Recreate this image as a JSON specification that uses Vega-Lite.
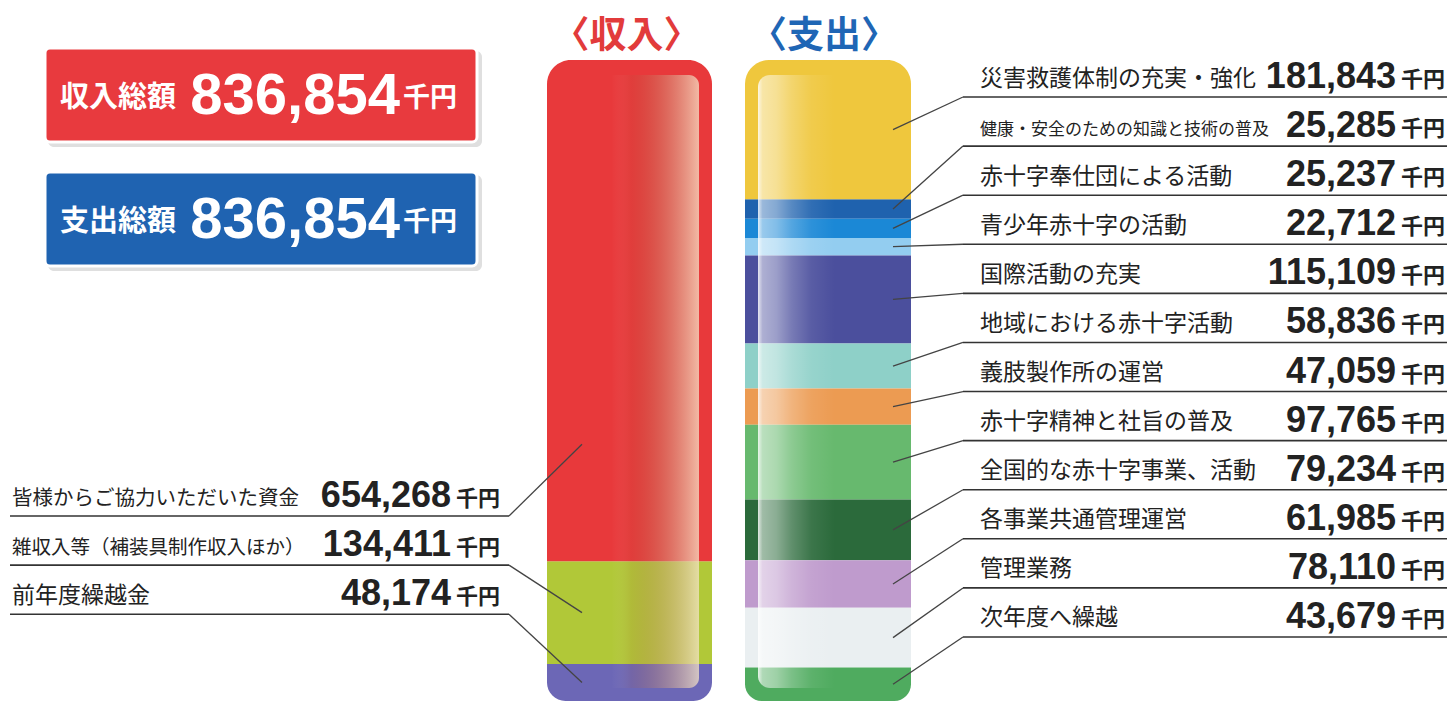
{
  "$schema": "https://vega.github.io/schema/vega-lite/v6.json",
  "width": 1451,
  "height": 704,
  "autosize": {"type": "fit", "contains": "padding"},
  "padding": 0,
  "background": "white",
  "config": {"view": {"stroke": null}},
  "data": {
    "values": [
      {"side": "収入", "item": "皆様からご協力いただいた資金", "amount": 654268},
      {"side": "収入", "item": "雑収入等（補装具制作収入ほか）", "amount": 134411},
      {"side": "収入", "item": "前年度繰越金", "amount": 48174},
      {"side": "支出", "item": "災害救護体制の充実・強化", "amount": 181843},
      {"side": "支出", "item": "健康・安全のための知識と技術の普及", "amount": 25285},
      {"side": "支出", "item": "赤十字奉仕団による活動", "amount": 25237},
      {"side": "支出", "item": "青少年赤十字の活動", "amount": 22712},
      {"side": "支出", "item": "国際活動の充実", "amount": 115109},
      {"side": "支出", "item": "地域における赤十字活動", "amount": 58836},
      {"side": "支出", "item": "義肢製作所の運営", "amount": 47059},
      {"side": "支出", "item": "赤十字精神と社旨の普及", "amount": 97765},
      {"side": "支出", "item": "全国的な赤十字事業、活動", "amount": 79234},
      {"side": "支出", "item": "各事業共通管理運営", "amount": 61985},
      {"side": "支出", "item": "管理業務", "amount": 78110},
      {"side": "支出", "item": "次年度へ繰越", "amount": 43679}
    ]
  },
  "transform": [
    {"window": [{"op": "row_number", "as": "idx"}], "groupby": ["side"]},
    {"joinaggregate": [{"op": "count", "as": "n"}], "groupby": ["side"]},
    {"stack": "amount", "groupby": ["side"], "sort": [{"field": "idx", "order": "ascending"}], "as": ["y0", "y1"]},
    {"calculate": "datum.y1 - min((datum.y1 - datum.y0) / 2, 152700)", "as": "ep"},
    {"calculate": "(datum.side == '収入' ? 595328 : 48305) + 64090 * (datum.idx - 1)", "as": "slot"}
  ],
  "layer": [
    {
      "transform": [{"filter": "datum.side == '収入'"}],
      "layer": [
        {
          "transform": [{"filter": "datum.idx > 1 && datum.idx < datum.n"}],
          "mark": {"type": "rect"},
          "encoding": {
            "x": {"datum": 547, "type": "quantitative", "scale": {"domain": [0, 1451], "nice": false, "zero": false}, "axis": null},
            "x2": {"datum": 712},
            "y": {"field": "y0", "type": "quantitative", "scale": {"domain": [-78333, 840770], "reverse": true, "nice": false, "zero": false}, "axis": null},
            "y2": {"field": "y1"},
            "color": {"field": "item", "type": "nominal", "legend": null, "scale": {"domain": ["皆様からご協力いただいた資金", "雑収入等（補装具制作収入ほか）", "前年度繰越金", "災害救護体制の充実・強化", "健康・安全のための知識と技術の普及", "赤十字奉仕団による活動", "青少年赤十字の活動", "国際活動の充実", "地域における赤十字活動", "義肢製作所の運営", "赤十字精神と社旨の普及", "全国的な赤十字事業、活動", "各事業共通管理運営", "管理業務", "次年度へ繰越"], "range": ["#e8393b", "#b1c838", "#6c67b6", "#efc73d", "#1f62ae", "#1b88d6", "#93cdf0", "#4b4f9d", "#8ed0c8", "#ec9b52", "#67b96e", "#2b6a3b", "#bf9bcd", "#eaeff1", "#4fab5f"]}}
          }
        },
        {
          "transform": [{"filter": "datum.idx == 1"}],
          "mark": {"type": "rect", "cornerRadiusTopLeft": 24, "cornerRadiusTopRight": 24},
          "encoding": {
            "x": {"datum": 547, "type": "quantitative", "scale": {"domain": [0, 1451], "nice": false, "zero": false}, "axis": null},
            "x2": {"datum": 712},
            "y": {"field": "y0", "type": "quantitative", "scale": {"domain": [-78333, 840770], "reverse": true, "nice": false, "zero": false}, "axis": null},
            "y2": {"field": "y1"},
            "color": {"field": "item", "type": "nominal", "legend": null, "scale": {"domain": ["皆様からご協力いただいた資金", "雑収入等（補装具制作収入ほか）", "前年度繰越金", "災害救護体制の充実・強化", "健康・安全のための知識と技術の普及", "赤十字奉仕団による活動", "青少年赤十字の活動", "国際活動の充実", "地域における赤十字活動", "義肢製作所の運営", "赤十字精神と社旨の普及", "全国的な赤十字事業、活動", "各事業共通管理運営", "管理業務", "次年度へ繰越"], "range": ["#e8393b", "#b1c838", "#6c67b6", "#efc73d", "#1f62ae", "#1b88d6", "#93cdf0", "#4b4f9d", "#8ed0c8", "#ec9b52", "#67b96e", "#2b6a3b", "#bf9bcd", "#eaeff1", "#4fab5f"]}}
          }
        },
        {
          "transform": [{"filter": "datum.idx == datum.n"}],
          "mark": {"type": "rect", "cornerRadiusBottomLeft": 24, "cornerRadiusBottomRight": 24},
          "encoding": {
            "x": {"datum": 547, "type": "quantitative", "scale": {"domain": [0, 1451], "nice": false, "zero": false}, "axis": null},
            "x2": {"datum": 712},
            "y": {"field": "y0", "type": "quantitative", "scale": {"domain": [-78333, 840770], "reverse": true, "nice": false, "zero": false}, "axis": null},
            "y2": {"field": "y1"},
            "color": {"field": "item", "type": "nominal", "legend": null, "scale": {"domain": ["皆様からご協力いただいた資金", "雑収入等（補装具制作収入ほか）", "前年度繰越金", "災害救護体制の充実・強化", "健康・安全のための知識と技術の普及", "赤十字奉仕団による活動", "青少年赤十字の活動", "国際活動の充実", "地域における赤十字活動", "義肢製作所の運営", "赤十字精神と社旨の普及", "全国的な赤十字事業、活動", "各事業共通管理運営", "管理業務", "次年度へ繰越"], "range": ["#e8393b", "#b1c838", "#6c67b6", "#efc73d", "#1f62ae", "#1b88d6", "#93cdf0", "#4b4f9d", "#8ed0c8", "#ec9b52", "#67b96e", "#2b6a3b", "#bf9bcd", "#eaeff1", "#4fab5f"]}}
          }
        },
        {
          "transform": [{"aggregate": [{"op": "sum", "field": "amount", "as": "total"}], "groupby": ["side"]}],
          "mark": {"type": "rect", "cornerRadius": 10, "fill": {"gradient": "linear", "x1": 0, "y1": 0, "x2": 1, "y2": 0, "stops": [{"offset": 0, "color": "rgba(255,255,255,0)"}, {"offset": 0.42, "color": "rgba(255,255,255,0)"}, {"offset": 0.55, "color": "rgba(170,90,60,0.12)"}, {"offset": 1, "color": "rgba(245,228,200,0.75)"}]}},
          "encoding": {
            "x": {"datum": 548, "type": "quantitative", "scale": {"domain": [0, 1451], "nice": false, "zero": false}, "axis": null},
            "x2": {"datum": 699},
            "y": {"datum": 19583, "type": "quantitative", "scale": {"domain": [-78333, 840770], "reverse": true, "nice": false, "zero": false}, "axis": null},
            "y2": {"datum": 819882}
          }
        },
        {
          "transform": [{"aggregate": [{"op": "sum", "field": "amount", "as": "total"}], "groupby": ["side"]}, {"calculate": "'〈' + datum.side + '〉'", "as": "head"}],
          "mark": {"type": "text", "font": "Noto Sans CJK JP", "fontWeight": "bold", "fontSize": 37, "align": "center", "baseline": "alphabetic", "color": "#e23b3b"},
          "encoding": {
            "x": {"datum": 626.5, "type": "quantitative", "scale": {"domain": [0, 1451], "nice": false, "zero": false}, "axis": null},
            "y": {"datum": -15667, "type": "quantitative", "scale": {"domain": [-78333, 840770], "reverse": true, "nice": false, "zero": false}, "axis": null},
            "text": {"field": "head"}
          }
        },
        {
          "mark": {"type": "rule", "color": "#333333", "strokeWidth": 1.6},
          "encoding": {
            "x": {"datum": 10, "type": "quantitative", "scale": {"domain": [0, 1451], "nice": false, "zero": false}, "axis": null},
            "x2": {"datum": 509},
            "y": {"field": "slot", "type": "quantitative", "scale": {"domain": [-78333, 840770], "reverse": true, "nice": false, "zero": false}, "axis": null}
          }
        },
        {
          "mark": {"type": "rule", "color": "#444444", "strokeWidth": 1.3},
          "encoding": {
            "x": {"datum": 509, "type": "quantitative", "scale": {"domain": [0, 1451], "nice": false, "zero": false}, "axis": null},
            "x2": {"datum": 582},
            "y": {"field": "slot", "type": "quantitative", "scale": {"domain": [-78333, 840770], "reverse": true, "nice": false, "zero": false}, "axis": null},
            "y2": {"field": "ep"}
          }
        },
        {
          "mark": {"type": "text", "font": "Noto Sans CJK JP", "align": "left", "baseline": "alphabetic", "dy": -11.5, "color": "#222222"},
          "encoding": {
            "x": {"datum": 12, "type": "quantitative", "scale": {"domain": [0, 1451], "nice": false, "zero": false}, "axis": null},
            "y": {"field": "slot", "type": "quantitative", "scale": {"domain": [-78333, 840770], "reverse": true, "nice": false, "zero": false}, "axis": null},
            "text": {"field": "item"},
            "size": {"condition": [{"test": "length(datum.item) >= 16", "value": 17}, {"test": "length(datum.item) == 15", "value": 19.5}, {"test": "length(datum.item) == 14", "value": 20.5}], "value": 23}
          }
        },
        {
          "mark": {"type": "text", "font": "Liberation Sans", "fontWeight": "bold", "fontSize": 36, "align": "right", "baseline": "alphabetic", "dy": -9, "color": "#222222"},
          "encoding": {
            "x": {"datum": 451, "type": "quantitative", "scale": {"domain": [0, 1451], "nice": false, "zero": false}, "axis": null},
            "y": {"field": "slot", "type": "quantitative", "scale": {"domain": [-78333, 840770], "reverse": true, "nice": false, "zero": false}, "axis": null},
            "text": {"field": "amount", "format": ","}
          }
        },
        {
          "mark": {"type": "text", "text": "千円", "font": "Noto Sans CJK JP", "fontWeight": "bold", "fontSize": 22, "align": "left", "baseline": "alphabetic", "dy": -10, "color": "#222222"},
          "encoding": {
            "x": {"datum": 456, "type": "quantitative", "scale": {"domain": [0, 1451], "nice": false, "zero": false}, "axis": null},
            "y": {"field": "slot", "type": "quantitative", "scale": {"domain": [-78333, 840770], "reverse": true, "nice": false, "zero": false}, "axis": null}
          }
        }
      ]
    },
    {
      "transform": [{"filter": "datum.side == '支出'"}],
      "layer": [
        {
          "transform": [{"filter": "datum.idx > 1 && datum.idx < datum.n"}],
          "mark": {"type": "rect"},
          "encoding": {
            "x": {"datum": 745, "type": "quantitative", "scale": {"domain": [0, 1451], "nice": false, "zero": false}, "axis": null},
            "x2": {"datum": 911},
            "y": {"field": "y0", "type": "quantitative", "scale": {"domain": [-78333, 840770], "reverse": true, "nice": false, "zero": false}, "axis": null},
            "y2": {"field": "y1"},
            "color": {"field": "item", "type": "nominal", "legend": null, "scale": {"domain": ["皆様からご協力いただいた資金", "雑収入等（補装具制作収入ほか）", "前年度繰越金", "災害救護体制の充実・強化", "健康・安全のための知識と技術の普及", "赤十字奉仕団による活動", "青少年赤十字の活動", "国際活動の充実", "地域における赤十字活動", "義肢製作所の運営", "赤十字精神と社旨の普及", "全国的な赤十字事業、活動", "各事業共通管理運営", "管理業務", "次年度へ繰越"], "range": ["#e8393b", "#b1c838", "#6c67b6", "#efc73d", "#1f62ae", "#1b88d6", "#93cdf0", "#4b4f9d", "#8ed0c8", "#ec9b52", "#67b96e", "#2b6a3b", "#bf9bcd", "#eaeff1", "#4fab5f"]}}
          }
        },
        {
          "transform": [{"filter": "datum.idx == 1"}],
          "mark": {"type": "rect", "cornerRadiusTopLeft": 24, "cornerRadiusTopRight": 24},
          "encoding": {
            "x": {"datum": 745, "type": "quantitative", "scale": {"domain": [0, 1451], "nice": false, "zero": false}, "axis": null},
            "x2": {"datum": 911},
            "y": {"field": "y0", "type": "quantitative", "scale": {"domain": [-78333, 840770], "reverse": true, "nice": false, "zero": false}, "axis": null},
            "y2": {"field": "y1"},
            "color": {"field": "item", "type": "nominal", "legend": null, "scale": {"domain": ["皆様からご協力いただいた資金", "雑収入等（補装具制作収入ほか）", "前年度繰越金", "災害救護体制の充実・強化", "健康・安全のための知識と技術の普及", "赤十字奉仕団による活動", "青少年赤十字の活動", "国際活動の充実", "地域における赤十字活動", "義肢製作所の運営", "赤十字精神と社旨の普及", "全国的な赤十字事業、活動", "各事業共通管理運営", "管理業務", "次年度へ繰越"], "range": ["#e8393b", "#b1c838", "#6c67b6", "#efc73d", "#1f62ae", "#1b88d6", "#93cdf0", "#4b4f9d", "#8ed0c8", "#ec9b52", "#67b96e", "#2b6a3b", "#bf9bcd", "#eaeff1", "#4fab5f"]}}
          }
        },
        {
          "transform": [{"filter": "datum.idx == datum.n"}],
          "mark": {"type": "rect", "cornerRadiusBottomLeft": 24, "cornerRadiusBottomRight": 24},
          "encoding": {
            "x": {"datum": 745, "type": "quantitative", "scale": {"domain": [0, 1451], "nice": false, "zero": false}, "axis": null},
            "x2": {"datum": 911},
            "y": {"field": "y0", "type": "quantitative", "scale": {"domain": [-78333, 840770], "reverse": true, "nice": false, "zero": false}, "axis": null},
            "y2": {"field": "y1"},
            "color": {"field": "item", "type": "nominal", "legend": null, "scale": {"domain": ["皆様からご協力いただいた資金", "雑収入等（補装具制作収入ほか）", "前年度繰越金", "災害救護体制の充実・強化", "健康・安全のための知識と技術の普及", "赤十字奉仕団による活動", "青少年赤十字の活動", "国際活動の充実", "地域における赤十字活動", "義肢製作所の運営", "赤十字精神と社旨の普及", "全国的な赤十字事業、活動", "各事業共通管理運営", "管理業務", "次年度へ繰越"], "range": ["#e8393b", "#b1c838", "#6c67b6", "#efc73d", "#1f62ae", "#1b88d6", "#93cdf0", "#4b4f9d", "#8ed0c8", "#ec9b52", "#67b96e", "#2b6a3b", "#bf9bcd", "#eaeff1", "#4fab5f"]}}
          }
        },
        {
          "transform": [{"aggregate": [{"op": "sum", "field": "amount", "as": "total"}], "groupby": ["side"]}],
          "mark": {"type": "rect", "cornerRadius": 12, "fill": {"gradient": "linear", "x1": 0, "y1": 0, "x2": 1, "y2": 0, "stops": [{"offset": 0, "color": "rgba(255,255,255,0.85)"}, {"offset": 0.03, "color": "rgba(255,255,255,0.55)"}, {"offset": 0.12, "color": "rgba(255,255,255,0.45)"}, {"offset": 0.22, "color": "rgba(255,255,255,0.25)"}, {"offset": 0.35, "color": "rgba(255,255,255,0.08)"}, {"offset": 0.5, "color": "rgba(255,255,255,0)"}, {"offset": 1, "color": "rgba(255,255,255,0)"}]}},
          "encoding": {
            "x": {"datum": 758, "type": "quantitative", "scale": {"domain": [0, 1451], "nice": false, "zero": false}, "axis": null},
            "x2": {"datum": 911},
            "y": {"datum": 19583, "type": "quantitative", "scale": {"domain": [-78333, 840770], "reverse": true, "nice": false, "zero": false}, "axis": null},
            "y2": {"datum": 819882}
          }
        },
        {
          "transform": [{"aggregate": [{"op": "sum", "field": "amount", "as": "total"}], "groupby": ["side"]}, {"calculate": "'〈' + datum.side + '〉'", "as": "head"}],
          "mark": {"type": "text", "font": "Noto Sans CJK JP", "fontWeight": "bold", "fontSize": 37, "align": "center", "baseline": "alphabetic", "color": "#1f66b5"},
          "encoding": {
            "x": {"datum": 824, "type": "quantitative", "scale": {"domain": [0, 1451], "nice": false, "zero": false}, "axis": null},
            "y": {"datum": -15667, "type": "quantitative", "scale": {"domain": [-78333, 840770], "reverse": true, "nice": false, "zero": false}, "axis": null},
            "text": {"field": "head"}
          }
        },
        {
          "mark": {"type": "rule", "color": "#333333", "strokeWidth": 1.6},
          "encoding": {
            "x": {"datum": 963, "type": "quantitative", "scale": {"domain": [0, 1451], "nice": false, "zero": false}, "axis": null},
            "x2": {"datum": 1447},
            "y": {"field": "slot", "type": "quantitative", "scale": {"domain": [-78333, 840770], "reverse": true, "nice": false, "zero": false}, "axis": null}
          }
        },
        {
          "mark": {"type": "rule", "color": "#444444", "strokeWidth": 1.3},
          "encoding": {
            "x": {"datum": 963, "type": "quantitative", "scale": {"domain": [0, 1451], "nice": false, "zero": false}, "axis": null},
            "x2": {"datum": 893},
            "y": {"field": "slot", "type": "quantitative", "scale": {"domain": [-78333, 840770], "reverse": true, "nice": false, "zero": false}, "axis": null},
            "y2": {"field": "ep"}
          }
        },
        {
          "mark": {"type": "text", "font": "Noto Sans CJK JP", "align": "left", "baseline": "alphabetic", "dy": -11.5, "color": "#222222"},
          "encoding": {
            "x": {"datum": 980, "type": "quantitative", "scale": {"domain": [0, 1451], "nice": false, "zero": false}, "axis": null},
            "y": {"field": "slot", "type": "quantitative", "scale": {"domain": [-78333, 840770], "reverse": true, "nice": false, "zero": false}, "axis": null},
            "text": {"field": "item"},
            "size": {"condition": [{"test": "length(datum.item) >= 16", "value": 17}, {"test": "length(datum.item) == 15", "value": 19.5}, {"test": "length(datum.item) == 14", "value": 20.5}], "value": 23}
          }
        },
        {
          "mark": {"type": "text", "font": "Liberation Sans", "fontWeight": "bold", "fontSize": 36, "align": "right", "baseline": "alphabetic", "dy": -9, "color": "#222222"},
          "encoding": {
            "x": {"datum": 1396, "type": "quantitative", "scale": {"domain": [0, 1451], "nice": false, "zero": false}, "axis": null},
            "y": {"field": "slot", "type": "quantitative", "scale": {"domain": [-78333, 840770], "reverse": true, "nice": false, "zero": false}, "axis": null},
            "text": {"field": "amount", "format": ","}
          }
        },
        {
          "mark": {"type": "text", "text": "千円", "font": "Noto Sans CJK JP", "fontWeight": "bold", "fontSize": 22, "align": "left", "baseline": "alphabetic", "dy": -10, "color": "#222222"},
          "encoding": {
            "x": {"datum": 1401, "type": "quantitative", "scale": {"domain": [0, 1451], "nice": false, "zero": false}, "axis": null},
            "y": {"field": "slot", "type": "quantitative", "scale": {"domain": [-78333, 840770], "reverse": true, "nice": false, "zero": false}, "axis": null}
          }
        }
      ]
    },
    {
      "data": {"values": [{"label": "収入総額", "amount": 836854}, {"label": "支出総額", "amount": 836854}]},
      "transform": [
        {"window": [{"op": "row_number", "as": "idx"}]},
        {"calculate": "(datum.idx - 1) * 161888", "as": "off"},
        {"calculate": "-15667 + datum.off", "as": "by0"},
        {"calculate": "107055 + datum.off", "as": "by1"},
        {"calculate": "-11750 + datum.off", "as": "sy0"},
        {"calculate": "113583 + datum.off", "as": "sy1"},
        {"calculate": "61361 + datum.off", "as": "tb"},
        {"calculate": "70499 + datum.off", "as": "nb"}
      ],
      "layer": [
        {
          "mark": {"type": "rect", "cornerRadius": 6, "color": "#c4c4c4", "opacity": 0.55},
          "encoding": {
            "x": {"datum": 48, "type": "quantitative", "scale": {"domain": [0, 1451], "nice": false, "zero": false}, "axis": null},
            "x2": {"datum": 482},
            "y": {"field": "sy0", "type": "quantitative", "scale": {"domain": [-78333, 840770], "reverse": true, "nice": false, "zero": false}, "axis": null},
            "y2": {"field": "sy1"}
          }
        },
        {
          "mark": {"type": "rect", "cornerRadius": 5, "stroke": "white", "strokeWidth": 3},
          "encoding": {
            "x": {"datum": 45, "type": "quantitative", "scale": {"domain": [0, 1451], "nice": false, "zero": false}, "axis": null},
            "x2": {"datum": 477},
            "y": {"field": "by0", "type": "quantitative", "scale": {"domain": [-78333, 840770], "reverse": true, "nice": false, "zero": false}, "axis": null},
            "y2": {"field": "by1"},
            "fill": {"field": "label", "type": "nominal", "legend": null, "scale": {"domain": ["収入総額", "支出総額"], "range": ["#e83a3e", "#1f63b1"]}}
          }
        },
        {
          "mark": {"type": "text", "font": "Noto Sans CJK JP", "fontWeight": "bold", "fontSize": 29, "align": "left", "baseline": "alphabetic", "color": "white"},
          "encoding": {
            "x": {"datum": 60, "type": "quantitative", "scale": {"domain": [0, 1451], "nice": false, "zero": false}, "axis": null},
            "y": {"field": "tb", "type": "quantitative", "scale": {"domain": [-78333, 840770], "reverse": true, "nice": false, "zero": false}, "axis": null},
            "text": {"field": "label"}
          }
        },
        {
          "mark": {"type": "text", "font": "Liberation Sans", "fontWeight": "bold", "fontSize": 58, "align": "right", "baseline": "alphabetic", "color": "white"},
          "encoding": {
            "x": {"datum": 400, "type": "quantitative", "scale": {"domain": [0, 1451], "nice": false, "zero": false}, "axis": null},
            "y": {"field": "nb", "type": "quantitative", "scale": {"domain": [-78333, 840770], "reverse": true, "nice": false, "zero": false}, "axis": null},
            "text": {"field": "amount", "format": ","}
          }
        },
        {
          "mark": {"type": "text", "text": "千円", "font": "Noto Sans CJK JP", "fontWeight": "bold", "fontSize": 27, "align": "left", "baseline": "alphabetic", "color": "white"},
          "encoding": {
            "x": {"datum": 403, "type": "quantitative", "scale": {"domain": [0, 1451], "nice": false, "zero": false}, "axis": null},
            "y": {"field": "tb", "type": "quantitative", "scale": {"domain": [-78333, 840770], "reverse": true, "nice": false, "zero": false}, "axis": null}
          }
        }
      ]
    }
  ]
}
